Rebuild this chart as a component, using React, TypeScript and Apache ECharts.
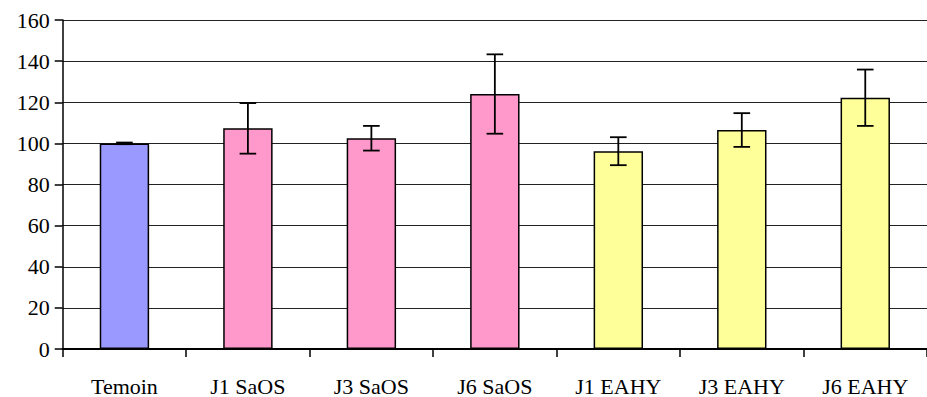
import React, { useEffect, useRef } from "react";
import * as echarts from "echarts";

const categories = ["Temoin", "J1 SaOS", "J3 SaOS", "J6 SaOS", "J1 EAHY", "J3 EAHY", "J6 EAHY"];
const means = [100, 107.3, 102.5, 124, 96.2, 106.5, 122.2];
const errors = [0.4, 12.3, 6, 19.3, 6.8, 8.2, 13.7];
const barColors = ["#9999FF", "#FF99CC", "#FF99CC", "#FF99CC", "#FFFF99", "#FFFF99", "#FFFF99"];
const yTicks = { min: 0, max: 160, interval: 20 };

export default function App() {
  const ref = useRef<HTMLDivElement>(null);
  useEffect(() => {
    if (!ref.current) return;
    const chart = echarts.init(ref.current, null, { renderer: "svg" });
    const font = "Liberation Serif";
    const option = {
      animation: false,
      backgroundColor: "#ffffff",
      grid: { left: 62.7, right: -8.3, top: 20, bottom: 47, containLabel: false },
      xAxis: {
        type: "category",
        data: categories,
        boundaryGap: true,
        axisLine: { show: true, lineStyle: { color: "#000", width: 2 } },
        axisTick: { show: true, alignWithLabel: false, length: 8, lineStyle: { color: "#000", width: 1.5 } },
        axisLabel: { color: "#000", fontFamily: font, fontSize: 22, margin: 26, interval: 0 },
        splitLine: { show: false },
      },
      yAxis: {
        type: "value",
        min: yTicks.min,
        max: yTicks.max,
        interval: yTicks.interval,
        axisLine: { show: true, lineStyle: { color: "#000", width: 1.5 } },
        axisTick: { show: true, length: 8, lineStyle: { color: "#000", width: 1.5 } },
        axisLabel: { color: "#000", fontFamily: font, fontSize: 22, margin: 13 },
        splitLine: { show: true, lineStyle: { color: "#222", width: 1 } },
      },
      series: [
        {
          type: "bar",
          barWidth: "40%",
          data: means.map((v, i) => ({
            value: v,
            itemStyle: { color: barColors[i], borderColor: "#000", borderWidth: 1.5 },
          })),
          z: 2,
        },
        {
          type: "custom",
          z: 5,
          data: means.map((v, i) => [i, v - errors[i], v + errors[i]]),
          renderItem: (params: any, api: any) => {
            const x = api.value(0);
            const lo = api.coord([x, api.value(1)]);
            const hi = api.coord([x, api.value(2)]);
            const half = 8.3;
            const style = { stroke: "#000", lineWidth: 1.8 };
            return {
              type: "group",
              children: [
                { type: "line", shape: { x1: hi[0], y1: hi[1], x2: lo[0], y2: lo[1] }, style },
                { type: "line", shape: { x1: hi[0] - half, y1: hi[1], x2: hi[0] + half, y2: hi[1] }, style },
                { type: "line", shape: { x1: lo[0] - half, y1: lo[1], x2: lo[0] + half, y2: lo[1] }, style },
              ],
            };
          },
        },
      ],
    };
    chart.setOption(option);
    let alive = true;
    const fonts: any = (document as any).fonts;
    if (fonts && fonts.load) {
      fonts.load('22px "Liberation Serif"').then(() => {
        if (alive) chart.setOption(option, true);
      }).catch(() => {});
    }
    return () => {
      alive = false;
      chart.dispose();
    };
  }, []);
  return (
    <div
      ref={ref}
      style={{
        position: "fixed",
        left: 0,
        top: 0,
        width: 927,
        height: 397,
        fontFamily: '"Liberation Serif", serif',
      }}
    />
  );
}
